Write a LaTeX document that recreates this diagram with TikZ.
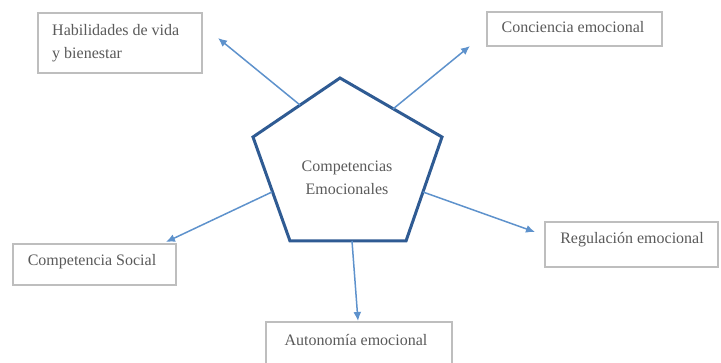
\documentclass[tikz,border=0pt]{standalone}
\usepackage{fontspec}
\setmainfont{Liberation Serif}
\usetikzlibrary{arrows.meta}
\definecolor{penta}{HTML}{2F5B93}
\definecolor{arrowc}{HTML}{5E92CC}
\definecolor{boxc}{HTML}{BEBEBE}
\definecolor{txtc}{HTML}{5A5A5A}
\tikzset{
  boxnode/.style={draw=boxc, line width=1.3pt, inner sep=0pt, fill=white},
  txt/.style={text=txtc, font=\fontsize{16pt}{19pt}\selectfont, inner sep=0pt},
  arr/.style={draw=arrowc, line width=1.5pt, -{Latex[length=9pt,width=8pt]}},
}
\begin{document}
\begin{tikzpicture}[x=1pt,y=-1pt]
\useasboundingbox (0,0) rectangle (721,363);
% pentagon
\coordinate (pT) at (340,78);
\coordinate (pL) at (253,137);
\coordinate (pR) at (442,137);
\coordinate (pBL) at (290,241);
\coordinate (pBR) at (406,241);
\draw[penta, line width=3pt, line join=miter] (pT) -- (pR) -- (pBR) -- (pBL) -- (pL) -- cycle;
\node[txt, align=center, font=\fontsize{16pt}{23pt}\selectfont] (center) at (347,178) {Competencias\\Emocionales};
% boxes
\node[boxnode, minimum width=164pt, minimum height=60pt] (bH) at (120,43) {};
\node[txt, anchor=mid west] (tH1) at (52,33) {Habilidades de vida};
\node[txt, anchor=mid west] (tH2) at (52,56) {y bienestar};
\node[boxnode, minimum width=175pt, minimum height=34pt] (bC) at (574.5,29) {};
\node[txt, anchor=mid] (tC) at (573,30) {Conciencia emocional};
\node[boxnode, minimum width=163pt, minimum height=41pt] (bS) at (94.5,264.5) {};
\node[txt, anchor=mid] (tS) at (92,263) {Competencia Social};
\node[boxnode, minimum width=173pt, minimum height=45pt] (bR) at (631.5,244.5) {};
\node[txt, anchor=mid] (tR) at (632,241) {Regulación emocional};
\node[boxnode, minimum width=186pt, minimum height=50pt] (bA) at (359,347) {};
\node[txt, anchor=mid] (tA) at (356,343) {Autonomía emocional};
% arrow ends
\coordinate (s1) at (300,105);
\coordinate (t1) at (218,38);
\coordinate (s2) at (393,109);
\coordinate (t2) at (470,46);
\coordinate (s3) at (272,192);
\coordinate (t3) at (166,242);
\coordinate (s4) at (423,192);
\coordinate (t4) at (535,232);
\coordinate (s5) at (352,241);
\coordinate (t5) at (358,321);
\draw[arr] (s1) -- (t1);
\draw[arr] (s2) -- (t2);
\draw[arr] (s3) -- (t3);
\draw[arr] (s4) -- (t4);
\draw[arr] (s5) -- (t5);
\end{tikzpicture}
\end{document}
